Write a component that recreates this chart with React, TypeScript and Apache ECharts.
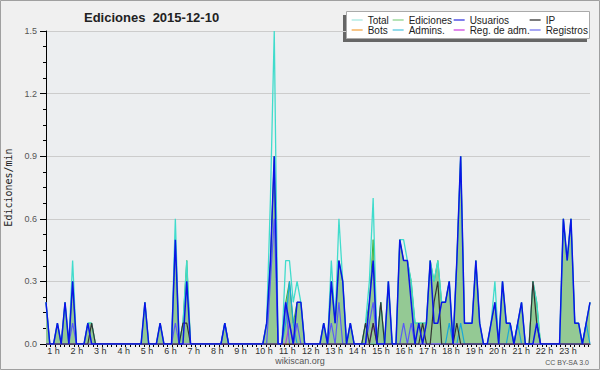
import React, { useEffect, useRef } from "react";
import * as echarts from "echarts";

// 10-minute bins, 00:00 .. 23:50
const categories: string[] = Array.from({ length: 144 }, (_, i) =>
  `${String(Math.floor(i / 6)).padStart(2, "0")}:${String((i % 6) * 10).padStart(2, "0")}`
);

const hourLabels = [1, 2, 3, 4, 5, 6, 7, 8, 9, 10, 11, 12, 13, 14, 15, 16, 17, 18, 19, 20, 21, 22, 23];
const yTicks = [0, 0.3, 0.6, 0.9, 1.2, 1.5];

const total = [
  0.2, 0, 0, 0.1, 0, 0.2, 0, 0.4, 0, 0, 0, 0.1,
  0.1, 0, 0, 0, 0, 0, 0, 0, 0, 0, 0, 0,
  0, 0, 0.2, 0, 0, 0, 0.1, 0, 0, 0, 0.6, 0,
  0.1, 0.4, 0, 0, 0, 0, 0, 0, 0, 0, 0, 0.1,
  0, 0, 0, 0, 0, 0, 0, 0, 0, 0, 0.1, 0.7,
  1.5, 0, 0, 0.4, 0.4, 0.2, 0.3, 0.2, 0, 0, 0, 0,
  0, 0.1, 0, 0.4, 0.1, 0.6, 0.3, 0, 0.1, 0, 0, 0,
  0.1, 0.3, 0.7, 0, 0.2, 0, 0.3, 0, 0, 0.5, 0.5, 0.4,
  0.3, 0.1, 0.1, 0.1, 0.1, 0.4, 0.3, 0.4, 0.2, 0.2, 0.3, 0,
  0.4, 0.9, 0.1, 0.1, 0.1, 0.4, 0.1, 0, 0, 0.1, 0.3, 0,
  0.3, 0.1, 0.1, 0, 0.1, 0.2, 0, 0, 0.3, 0.2, 0, 0,
  0, 0, 0, 0, 0.6, 0.4, 0.6, 0.1, 0.1, 0, 0.1, 0.2,
];

const ediciones = [
  0.2, 0, 0, 0.1, 0, 0.2, 0, 0.3, 0, 0, 0, 0.1,
  0.1, 0, 0, 0, 0, 0, 0, 0, 0, 0, 0, 0,
  0, 0, 0.2, 0, 0, 0, 0.1, 0, 0, 0, 0.5, 0,
  0.1, 0.4, 0, 0, 0, 0, 0, 0, 0, 0, 0, 0.1,
  0, 0, 0, 0, 0, 0, 0, 0, 0, 0, 0.1, 0.4,
  0.9, 0, 0, 0.2, 0.3, 0.1, 0.2, 0.2, 0, 0, 0, 0,
  0, 0.1, 0, 0.3, 0.1, 0.4, 0.3, 0, 0.1, 0, 0, 0,
  0.1, 0.2, 0.5, 0, 0.2, 0, 0.3, 0, 0, 0.5, 0.4, 0.4,
  0.3, 0.1, 0.1, 0.1, 0.1, 0.4, 0.3, 0.4, 0.2, 0.2, 0.3, 0,
  0.4, 0.9, 0.1, 0.1, 0.1, 0.4, 0.1, 0, 0, 0.1, 0.2, 0,
  0.3, 0.1, 0.1, 0, 0.1, 0.2, 0, 0, 0.3, 0.2, 0, 0,
  0, 0, 0, 0, 0.6, 0.4, 0.6, 0.1, 0.1, 0, 0.1, 0.2,
];

const usuarios = [
  0.2, 0, 0, 0.1, 0, 0.2, 0, 0.3, 0, 0, 0, 0.1,
  0, 0, 0, 0, 0, 0, 0, 0, 0, 0, 0, 0,
  0, 0, 0.2, 0, 0, 0, 0.1, 0, 0, 0, 0.5, 0,
  0, 0.3, 0, 0, 0, 0, 0, 0, 0, 0, 0, 0.1,
  0, 0, 0, 0, 0, 0, 0, 0, 0, 0, 0.1, 0.4,
  0.9, 0, 0, 0.2, 0.1, 0, 0.2, 0.2, 0, 0, 0, 0,
  0, 0.1, 0, 0.3, 0.1, 0.4, 0.3, 0, 0.1, 0, 0, 0,
  0, 0.2, 0.4, 0, 0, 0, 0.3, 0, 0, 0.5, 0.4, 0.4,
  0.2, 0, 0.1, 0, 0.1, 0.4, 0.1, 0.1, 0.2, 0.2, 0.3, 0,
  0.4, 0.9, 0.1, 0.1, 0.1, 0.4, 0.1, 0, 0, 0.1, 0.2, 0,
  0.3, 0.1, 0.1, 0, 0.1, 0.2, 0, 0, 0, 0.1, 0, 0,
  0, 0, 0, 0, 0.6, 0.4, 0.6, 0.1, 0.1, 0, 0.1, 0.2,
];

const ip = [
  0, 0, 0, 0, 0, 0, 0, 0, 0, 0, 0, 0,
  0.1, 0, 0, 0, 0, 0, 0, 0, 0, 0, 0, 0,
  0, 0, 0, 0, 0, 0, 0, 0, 0, 0, 0, 0,
  0.1, 0.1, 0, 0, 0, 0, 0, 0, 0, 0, 0, 0,
  0, 0, 0, 0, 0, 0, 0, 0, 0, 0, 0, 0,
  0, 0, 0, 0, 0, 0, 0, 0, 0, 0, 0, 0,
  0, 0, 0, 0, 0, 0, 0, 0, 0, 0, 0, 0,
  0.1, 0, 0.1, 0, 0.2, 0, 0, 0, 0, 0, 0, 0,
  0, 0, 0, 0.1, 0, 0, 0.2, 0.3, 0, 0, 0, 0,
  0.1, 0, 0, 0, 0, 0, 0, 0, 0, 0, 0, 0,
  0, 0, 0, 0, 0, 0, 0, 0, 0.3, 0.1, 0, 0,
  0, 0, 0, 0, 0, 0, 0, 0, 0, 0, 0, 0,
];

const bots = [
  0, 0, 0, 0, 0, 0, 0, 0, 0, 0, 0, 0,
  0, 0, 0, 0, 0, 0, 0, 0, 0, 0, 0, 0,
  0, 0, 0, 0, 0, 0, 0, 0, 0, 0, 0, 0,
  0, 0, 0, 0, 0, 0, 0, 0, 0, 0, 0, 0,
  0, 0, 0, 0, 0, 0, 0, 0, 0, 0, 0, 0,
  0, 0, 0, 0, 0, 0, 0, 0, 0, 0, 0, 0,
  0, 0, 0, 0, 0, 0, 0, 0, 0, 0, 0, 0,
  0, 0, 0, 0, 0, 0, 0, 0, 0, 0, 0, 0,
  0, 0, 0, 0, 0, 0, 0, 0, 0, 0, 0, 0,
  0, 0, 0, 0, 0, 0, 0, 0, 0, 0, 0, 0,
  0, 0, 0, 0, 0, 0, 0, 0, 0, 0, 0, 0,
  0, 0, 0, 0, 0, 0, 0, 0, 0, 0, 0, 0,
];

const admins = [
  0, 0, 0, 0, 0, 0, 0, 0, 0, 0, 0, 0,
  0, 0, 0, 0, 0, 0, 0, 0, 0, 0, 0, 0,
  0, 0, 0, 0, 0, 0, 0, 0, 0, 0, 0, 0,
  0, 0, 0, 0, 0, 0, 0, 0, 0, 0, 0, 0.1,
  0, 0, 0, 0, 0, 0, 0, 0, 0, 0, 0, 0,
  0, 0, 0, 0.1, 0.3, 0.1, 0, 0, 0, 0, 0, 0,
  0, 0, 0, 0, 0, 0, 0, 0, 0, 0, 0, 0,
  0, 0, 0, 0, 0, 0, 0, 0, 0, 0, 0, 0,
  0, 0, 0, 0, 0, 0, 0, 0, 0, 0, 0.1, 0,
  0, 0.1, 0, 0, 0, 0, 0, 0, 0, 0, 0, 0,
  0, 0, 0.1, 0, 0.1, 0, 0, 0, 0, 0, 0, 0,
  0, 0, 0, 0, 0, 0, 0, 0, 0, 0, 0.1, 0,
];

const regAdm = [
  0, 0, 0, 0, 0, 0, 0, 0, 0, 0, 0, 0,
  0, 0, 0, 0, 0, 0, 0, 0, 0, 0, 0, 0,
  0, 0, 0, 0, 0, 0, 0, 0, 0, 0, 0, 0,
  0, 0, 0, 0, 0, 0, 0, 0, 0, 0, 0, 0,
  0, 0, 0, 0, 0, 0, 0, 0, 0, 0, 0, 0,
  0, 0, 0, 0, 0.1, 0, 0, 0, 0, 0, 0, 0,
  0, 0, 0, 0, 0, 0, 0, 0, 0, 0, 0, 0,
  0, 0, 0.1, 0, 0, 0, 0, 0, 0, 0, 0, 0,
  0, 0, 0, 0, 0, 0, 0, 0, 0, 0, 0, 0,
  0, 0, 0, 0, 0, 0, 0, 0, 0, 0, 0, 0,
  0, 0, 0, 0, 0, 0, 0, 0, 0, 0, 0, 0,
  0, 0, 0, 0, 0, 0, 0, 0, 0, 0, 0, 0,
];

const registros = [
  0, 0, 0, 0, 0, 0, 0, 0.1, 0, 0, 0, 0,
  0, 0, 0, 0, 0, 0, 0, 0, 0, 0, 0, 0,
  0, 0, 0, 0, 0, 0, 0, 0, 0, 0, 0.1, 0,
  0, 0, 0, 0, 0, 0, 0, 0, 0, 0, 0, 0,
  0, 0, 0, 0, 0, 0, 0, 0, 0, 0, 0, 0.3,
  0.6, 0, 0, 0.2, 0, 0, 0.1, 0, 0, 0, 0, 0,
  0, 0, 0, 0.1, 0, 0.2, 0, 0, 0, 0, 0, 0,
  0, 0.1, 0.2, 0, 0, 0, 0, 0, 0, 0, 0.1, 0,
  0.1, 0, 0, 0, 0, 0, 0, 0, 0, 0, 0, 0,
  0, 0, 0, 0, 0, 0, 0, 0, 0, 0, 0, 0,
  0, 0, 0, 0, 0, 0, 0, 0, 0, 0, 0, 0,
  0, 0, 0, 0, 0, 0, 0, 0, 0, 0, 0, 0,
];

const FONT = "Liberation Sans";

export default function App() {
  const ref = useRef<HTMLDivElement>(null);

  useEffect(() => {
    if (!ref.current) return;
    const chart = echarts.init(ref.current, undefined, { renderer: "svg" });

    const tickValues: number[] = [];
    for (let v = 0.68; v <= 23.95; v += 0.2) tickValues.push(+v.toFixed(2));

    const line = (name: string, data: number[], color: string, width: number, extra: any = {}) => ({
      type: "line",
      name,
      data,
      symbol: "none",
      showSymbol: false,
      xAxisIndex: 0,
      yAxisIndex: 0,
      lineStyle: { color, width },
      itemStyle: { color },
      emphasis: { disabled: true },
      ...extra,
    });

    const legendCol = (left: number, items: { name: string; color: string }[]) => ({
      orient: "vertical",
      left,
      top: 15,
      padding: 0,
      itemGap: 0,
      itemWidth: 11,
      itemHeight: 9,
      selectedMode: false,
      textStyle: { fontFamily: FONT, fontSize: 10, color: "#222", lineHeight: 9 },
      data: items.map((it) => ({
        name: it.name,
        itemStyle: { color: it.color, opacity: 0 },
        lineStyle: { color: it.color, width: 1.3, opacity: 1 },
      })),
    });

    chart.setOption({
      animation: false,
      backgroundColor: "#f0f0f0",
      textStyle: { fontFamily: FONT },
      title: {
        text: "Ediciones  2015-12-10",
        left: 84,
        top: 11,
        padding: 0,
        textStyle: { fontFamily: FONT, fontSize: 13, fontWeight: "bold", color: "#222" },
      },
      grid: {
        left: 46,
        right: 10,
        top: 31,
        bottom: 26,
        show: true,
        backgroundColor: "#eceef0",
        borderWidth: 0,
        outerBoundsMode: "none",
      },
      legend: [
        legendCol(351, [
          { name: "Total", color: "#a8e8e0" },
          { name: "Bots", color: "#f4a848" },
        ]),
        legendCol(392, [
          { name: "Ediciones", color: "#8ed48e" },
          { name: "Admins.", color: "#58c8e0" },
        ]),
        legendCol(453, [
          { name: "Usuarios", color: "#3838e0" },
          { name: "Reg. de adm.", color: "#d048e0" },
        ]),
        legendCol(529, [
          { name: "IP", color: "#333333" },
          { name: "Registros", color: "#7878f0" },
        ]),
      ],
      xAxis: [
        {
          type: "category",
          data: categories,
          boundaryGap: false,
          axisLine: { show: true, lineStyle: { color: "#000", width: 1 } },
          axisTick: { show: false },
          axisLabel: { show: false },
          splitLine: { show: false },
        },
        {
          type: "value",
          min: 0.68,
          max: 23.94,
          position: "bottom",
          axisLine: { show: false },
          axisTick: {
            show: true,
            customValues: tickValues,
            length: 3,
            lineStyle: { color: "#000", width: 1 },
          },
          axisLabel: {
            show: true,
            customValues: hourLabels,
            formatter: (v: number) => `${v} h`,
            fontFamily: FONT,
            fontSize: 9,
            color: "#333",
            margin: 2,
          },
          splitLine: { show: false },
        },
      ],
      yAxis: {
        type: "value",
        min: 0,
        max: 1.5,
        interval: 0.3,
        name: "Ediciones/min",
        nameLocation: "middle",
        nameGap: 33,
        nameTextStyle: { fontFamily: "DejaVu Sans Mono", fontSize: 10, color: "#222" },
        axisLine: { show: true, lineStyle: { color: "#000", width: 1 } },
        axisTick: { show: true, length: 6, lineStyle: { color: "#000" } },
        minorTick: { show: true, splitNumber: 4, length: 3, lineStyle: { color: "#000" } },
        axisLabel: {
          formatter: (v: number) => (yTicks.includes(+v.toFixed(1)) ? v.toFixed(1) : ""),
          fontFamily: FONT,
          fontSize: 9,
          color: "#555",
          margin: 9,
        },
        splitLine: { show: true, lineStyle: { color: "#cccccc", width: 1 } },
      },
      series: [
        line("Ediciones", ediciones, "#3cb43c", 1, {
          areaStyle: { color: "#94c994", opacity: 1 },
        }),
        line("Total", total, "#40dccc", 1.3),
        line("Bots", bots, "#f0a040", 1),
        line("Admins.", admins, "#18a8d8", 1.2),
        line("Reg. de adm.", regAdm, "#b040e0", 1.2),
        line("Registros", registros, "#5a5af5", 1.2),
        line("IP", ip, "#333333", 1.2),
        line("Usuarios", usuarios, "#0a14e6", 1.5),
      ],
      graphic: [
        {
          type: "rect",
          shape: { x: 0.5, y: 0.5, width: 599, height: 369 },
          style: { fill: "none", stroke: "#a0a0a0", lineWidth: 1 },
          silent: true,
          z: 100,
        },
        {
          type: "rect",
          shape: { x: 343, y: 15, width: 244, height: 27 },
          style: { fill: "#666666" },
          silent: true,
          z: 0,
        },
        {
          type: "rect",
          shape: { x: 346.5, y: 11.5, width: 243, height: 27 },
          style: { fill: "#ffffff", stroke: "#aaaaaa", lineWidth: 1 },
          silent: true,
          z: 1,
        },
        {
          type: "text",
          x: 300,
          y: 361,
          style: {
            text: "wikiscan.org",
            fontFamily: FONT,
            fontSize: 9,
            fill: "#555",
            align: "center",
            verticalAlign: "middle",
          },
          silent: true,
        },
        {
          type: "text",
          x: 589,
          y: 362,
          style: {
            text: "CC BY-SA 3.0",
            fontFamily: FONT,
            fontSize: 7,
            fill: "#555",
            align: "right",
            verticalAlign: "middle",
          },
          silent: true,
        },
      ],
    });

    return () => chart.dispose();
  }, []);

  return (
    <div
      ref={ref}
      style={{ position: "fixed", left: 0, top: 0, width: 600, height: 370 }}
    />
  );
}
